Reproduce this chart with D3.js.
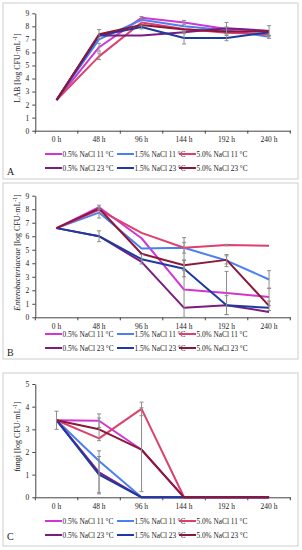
<!DOCTYPE html>
<html>
<head>
<meta charset="utf-8">
<script src="https://cdn.jsdelivr.net/npm/d3@7"></script>
<style>
  body { margin: 0; background: #fff; }
  text { font-family: "Liberation Serif", "Times New Roman", serif; fill: #222; }
</style>
</head>
<body>
<svg id="chart" width="302" height="550"></svg>
<script>
const times = ["0 h", "48 h", "96 h", "144 h", "192 h", "240 h"];

const seriesNames = [
    "0.5% NaCl 11 °C", "1.5% NaCl 11 °C", "5.0% NaCl 11 °C",
    "0.5% NaCl 23 °C", "1.5% NaCl 23 °C", "5.0% NaCl 23 °C"
];
const seriesColors = ["#d135d4", "#4a80f0", "#dc416c", "#7a1c80", "#1d3a9f", "#8a1838"];

// LAB, one row per series (same order as seriesNames)
const labValues = [
    [2.35, 6.4, 8.65, 8.3, 7.8, 7.65],
    [2.35, 7.0, 8.5, 8.0, 7.7, 7.2],
    [2.35, 5.7, 8.3, 7.8, 7.5, 7.4],
    [2.35, 7.3, 7.3, 7.55, 7.85, 7.65],
    [2.35, 7.3, 7.95, 7.1, 7.1, 7.55],
    [2.35, 7.4, 8.1, 7.75, 7.6, 7.6]
];
const labErrors = [
    [0, 0.3, 0.1, 0.15, 0, 0],
    [0, 0, 0, 0, 0.25, 0.12],
    [0, 0.25, 0, 0, 0, 0],
    [0, 0, 0, 0.1, 0.45, 0.4],
    [0, 0, 0.15, 0.45, 0.2, 0],
    [0, 0.35, 0, 0, 0, 0]
];

// Enterobacteriaceae
const entValues = [
    [6.6, 8.15, 5.85, 2.05, 1.8, 1.5],
    [6.6, 7.75, 5.1, 5.15, 4.2, 2.8],
    [6.6, 7.95, 6.25, 5.15, 5.35, 5.3],
    [6.6, 6.0, 4.1, 0.7, 0.9, 0.4],
    [6.6, 6.0, 4.3, 3.6, 0.9, 0.7],
    [6.6, 8.05, 4.7, 3.85, 4.25, 0.85]
];
const entErrors = [
    [0, 0.15, 0, 3.85, 1.6, 0.65],
    [0, 0.4, 0, 0, 0.45, 0.65],
    [0, 0, 0, 0.4, 0.05, 0],
    [0, 0, 0, 0, 0, 0],
    [0, 0.4, 0.35, 0.6, 0.7, 0],
    [0, 0, 0, 0.4, 0.3, 0.35]
];

// fungi
const fungiValues = [
    [3.4, 3.38, 2.1, 0, 0, 0],
    [3.4, 1.6, 0, 0, 0, 0],
    [3.4, 2.6, 3.9, 0, 0, 0],
    [3.4, 1.1, 0, 0, 0, 0],
    [3.4, 1.0, 0, 0, 0, 0],
    [3.4, 3.0, 2.1, 0, 0, 0]
];
const fungiErrors = [
    [0.4, 0.3, 1.85, 0, 0, 0],
    [0, 0, 0, 0, 0, 0],
    [0, 0, 0.3, 0, 0, 0],
    [0, 0.95, 0, 0, 0, 0],
    [0, 0.8, 0, 0, 0, 0],
    [0, 0.5, 0, 0, 0, 0]
];

const panels = [
    { letter: "A", label: "LAB", italic: false, values: labValues, errors: labErrors, yMax: 9,
      box: [3, 3, 298, 179], top: 13.3, bottom: 130.7, legendY: 154, letterY: 175 },
    { letter: "B", label: "Enterobacteriaceae", italic: true, values: entValues, errors: entErrors, yMax: 9,
      box: [3, 183, 298, 359], top: 195.7, bottom: 317.3, legendY: 334, letterY: 356 },
    { letter: "C", label: "fungi", italic: false, values: fungiValues, errors: fungiErrors, yMax: 5,
      box: [3, 373, 298, 546], top: 384, bottom: 497.3, legendY: 521, letterY: 540 }
];

const svg = d3.select("#chart");
const x = d3.scaleBand().domain(times).range([35.3, 290.3]);
const serif = "'Liberation Serif', serif";

const drawPanel = (p) => {
    const g = svg.append("g");
    const y = d3.scaleLinear().domain([0, p.yMax]).range([p.bottom, p.top]);

    g.append("rect")
        .attr("x", p.box[0]).attr("y", p.box[1])
        .attr("width", p.box[2] - p.box[0]).attr("height", p.box[3] - p.box[1])
        .attr("fill", "none").attr("stroke", "#d6d6d6").attr("stroke-width", 1.2);

    // y axis
    g.append("g")
        .attr("transform", `translate(${x.range()[0]},0)`)
        .call(d3.axisLeft(y).ticks(p.yMax).tickSize(3).tickPadding(3).tickSizeOuter(0))
        .attr("font-family", serif)
        .call((a) => a.selectAll("text").style("font-size", "7.5px").attr("fill", "#333"))
        .call((a) => a.selectAll("line, path").attr("stroke", "#444"));

    // x axis: labels at band centres, ticks at band edges
    const xa = g.append("g")
        .attr("transform", `translate(0,${p.bottom})`)
        .call(d3.axisBottom(x).tickSize(0).tickPadding(6).tickSizeOuter(0))
        .attr("font-family", serif)
        .call((a) => a.selectAll("text").style("font-size", "7.5px").attr("fill", "#333"))
        .call((a) => a.select("path").attr("stroke", "#444"));
    xa.selectAll(".edge")
        .data(times.map((t) => x(t)).concat([x.range()[1]]))
        .join("line")
        .attr("class", "edge")
        .attr("x1", (d) => d).attr("x2", (d) => d)
        .attr("y1", 0).attr("y2", 3)
        .attr("stroke", "#444");

    // y label
    const lab = g.append("text")
        .attr("transform", `translate(20,${(p.top + p.bottom) / 2 - 4}) rotate(-90)`)
        .attr("text-anchor", "middle")
        .style("font-size", "8px");
    lab.append("tspan").style("font-style", p.italic ? "italic" : "normal").text(p.label);
    lab.append("tspan").text(" [log CFU·mL");
    lab.append("tspan").attr("dy", -3).style("font-size", "5.5px").text("-1");
    lab.append("tspan").attr("dy", 3).text("]");

    const cx = (i) => x(times[i]) + x.bandwidth() / 2;
    const line = d3.line((d, i) => cx(i), (d) => y(d));

    g.selectAll("path.series")
        .data(p.values)
        .join("path")
        .attr("class", "series")
        .attr("d", line)
        .attr("fill", "none")
        .attr("stroke", (d, i) => seriesColors[i])
        .attr("stroke-width", 2)
        .attr("stroke-linejoin", "round");

    // error bars
    const bars = [];
    p.errors.forEach((row, s) => row.forEach((e, i) => {
        if (e > 0) bars.push({ x: cx(i), lo: Math.max(0, p.values[s][i] - e), hi: p.values[s][i] + e });
    }));
    const eb = g.selectAll("g.err").data(bars).join("g").attr("class", "err")
        .attr("stroke", "#8c8c8c").attr("stroke-width", 1);
    eb.append("line").attr("x1", (d) => d.x).attr("x2", (d) => d.x)
        .attr("y1", (d) => y(d.lo)).attr("y2", (d) => y(d.hi));
    eb.append("line").attr("x1", (d) => d.x - 2).attr("x2", (d) => d.x + 2)
        .attr("y1", (d) => y(d.lo)).attr("y2", (d) => y(d.lo));
    eb.append("line").attr("x1", (d) => d.x - 2).attr("x2", (d) => d.x + 2)
        .attr("y1", (d) => y(d.hi)).attr("y2", (d) => y(d.hi));

    // legend
    const legX = [45, 117, 179];
    const leg = g.selectAll("g.leg").data(seriesNames).join("g").attr("class", "leg")
        .attr("transform", (d, i) => `translate(${legX[i % 3]},${p.legendY + Math.floor(i / 3) * 14})`);
    leg.append("line").attr("x1", 0).attr("x2", 17).attr("y1", 0).attr("y2", 0)
        .attr("stroke", (d, i) => seriesColors[i]).attr("stroke-width", 2);
    leg.append("text").attr("x", 17.5).attr("y", 2.6).style("font-size", "7.3px").text((d) => d);

    g.append("text").attr("x", 7).attr("y", p.letterY).style("font-size", "10px").text(p.letter);
};

panels.forEach(drawPanel);
</script>
</body>
</html>
